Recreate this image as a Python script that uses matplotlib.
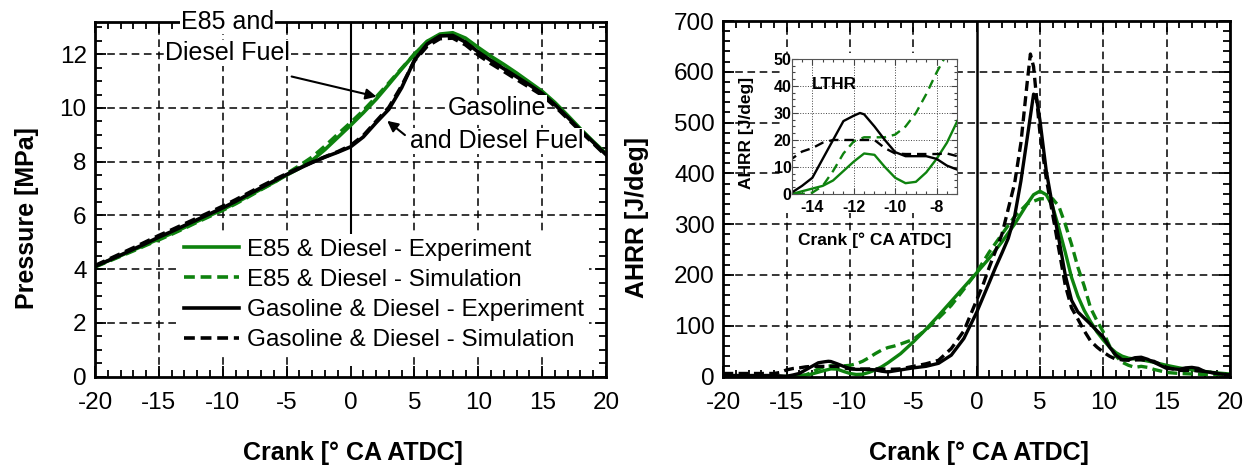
import numpy as np
import matplotlib.pyplot as plt
from matplotlib.ticker import MultipleLocator
from matplotlib.patches import Rectangle

plt.rcParams['font.family'] = ['Liberation Sans', 'DejaVu Sans']
plt.rcParams['axes.unicode_minus'] = False

GREEN = '#0e820e'

# ---- cylinder pressure [MPa] vs crank angle ----
ca_p = np.arange(-20, 21)
p_e85_exp = [4.10, 4.30, 4.50, 4.71, 4.92, 5.12, 5.33, 5.55, 5.78, 6.00,
             6.22, 6.46, 6.72, 6.98, 7.23, 7.50, 7.75, 8.05, 8.45, 8.90,
             9.35, 9.82, 10.32, 10.88, 11.45, 12.00, 12.48, 12.75, 12.80, 12.60,
             12.25, 11.92, 11.62, 11.30, 10.96, 10.62, 10.20, 9.72, 9.22, 8.75, 8.30]
p_e85_sim = [4.08, 4.28, 4.48, 4.68, 4.89, 5.09, 5.30, 5.52, 5.75, 5.97,
             6.19, 6.43, 6.69, 6.96, 7.22, 7.55, 7.85, 8.17, 8.58, 9.02,
             9.45, 9.90, 10.40, 10.93, 11.47, 12.00, 12.47, 12.72, 12.76, 12.55,
             12.20, 11.87, 11.57, 11.25, 10.91, 10.57, 10.15, 9.67, 9.18, 8.71, 8.26]
p_gas_exp = [4.10, 4.31, 4.52, 4.74, 4.96, 5.19, 5.40, 5.62, 5.84, 6.06,
             6.28, 6.52, 6.78, 7.03, 7.28, 7.52, 7.75, 7.97, 8.17, 8.35,
             8.55, 8.92, 9.45, 9.95, 10.75, 11.78, 12.38, 12.68, 12.70, 12.45,
             12.08, 11.76, 11.46, 11.16, 10.86, 10.54, 10.12, 9.65, 9.17, 8.72, 8.26]
p_gas_sim = [4.13, 4.35, 4.57, 4.79, 5.02, 5.25, 5.46, 5.68, 5.90, 6.12,
             6.34, 6.58, 6.83, 7.08, 7.32, 7.55, 7.77, 7.98, 8.18, 8.37,
             8.60, 8.97, 9.50, 10.02, 10.82, 11.75, 12.30, 12.58, 12.60, 12.35,
             11.97, 11.65, 11.36, 11.06, 10.77, 10.47, 10.06, 9.60, 9.13, 8.68, 8.22]

# ---- apparent heat release rate [J/deg] ----
ca_e85_exp = [-20, -18, -16, -15, -14.5, -14, -13.5, -13, -12.5, -12, -11.5, -11,
              -10.5, -10, -9.5, -9, -8.5, -8, -7.5, -7, -6, -5, -4, -3, -2, -1,
              0, 1, 2, 3, 4, 4.5, 5, 5.5, 6, 6.5, 7, 7.5, 8, 8.5, 9, 9.5, 10,
              10.5, 11, 11.5, 12, 13, 14, 15, 16, 17, 18, 19, 20]
hr_e85_exp = [0, 0, 0, 0, 1, 2, 3, 5, 8.5, 12, 15, 14.5,
              10, 6, 4, 4.5, 8, 13, 19, 27, 45, 68, 93, 120, 148, 176,
              204, 233, 265, 300, 340, 358, 365, 358, 335, 292, 245, 195, 158, 130, 108, 88, 72,
              58, 47, 40, 36, 33, 28, 22, 17, 13, 10, 7, 5]

ca_e85_sim = [-20, -18, -16, -15, -14.5, -14, -13.5, -13, -12.5, -12, -11.5, -11,
              -10.5, -10, -9.5, -9, -8.5, -8, -7.5, -7, -6.5, -6, -5, -4, -3, -2,
              -1, 0, 1, 2, 3, 4, 5, 6, 6.5, 7, 7.5, 8, 8.5, 9, 9.5, 10, 10.5,
              11, 11.5, 12, 12.5, 13, 13.5, 14, 15, 16, 17, 18, 20]
hr_e85_sim = [1, 1, 0, 0, 0, 0.5, 3, 8.5, 15, 19.5, 21, 21,
              21, 22, 25, 30, 37, 45, 52, 57, 60, 64, 73, 92, 115, 140,
              172, 205, 245, 280, 315, 340, 350, 350, 335, 300, 260, 215, 178, 135, 110, 88, 60,
              40, 28, 22, 18, 20, 18, 14, 8, 6, 5, 4, 3]

ca_gas_exp = [-20, -18, -16, -15, -14.5, -14, -13.5, -13, -12.5, -12, -11.7, -11.5,
              -11, -10.5, -10, -9.5, -9, -8.5, -8, -7.5, -7, -6, -5, -4, -3, -2,
              -1, 0, 1, 1.5, 2, 2.5, 3, 3.5, 4, 4.5, 4.75, 5, 5.5, 6, 6.5, 7, 7.5,
              8, 8.5, 9, 9.5, 10, 10.5, 11, 11.5, 12, 12.5, 13, 13.5, 14, 14.5,
              15, 16, 16.5, 17, 17.5, 18, 19, 20]
hr_gas_exp = [2, 2, 2, 0.5, 3, 6, 13, 20, 27, 29, 30, 29.5,
              25, 20, 15.5, 14, 14, 14, 13, 10.5, 9, 13, 17, 20, 26, 42,
              75, 126, 185, 215, 243, 272, 315, 385, 470, 556, 545, 505, 405, 335, 270, 200, 150,
              127, 115, 103, 90, 78, 58, 42, 33, 33, 37, 38, 34, 28, 22,
              16, 14, 17, 18, 16, 10, 6, 3]

ca_gas_sim = [-20, -18, -16, -15.5, -15, -14.5, -14, -13.5, -13, -12, -11.5, -11,
              -10.5, -10, -9.5, -9, -8, -7.5, -7, -6, -5, -4, -3, -2, -1, 0,
              0.5, 1, 2, 3, 3.5, 4, 4.25, 4.5, 5, 5.5, 6, 6.5, 7, 7.5, 8, 8.5,
              9, 9.5, 10, 10.5, 11, 12, 13, 14, 15, 16, 17, 18, 19, 20]
hr_gas_sim = [6, 6, 6, 8, 13, 15.7, 17, 19, 20, 20, 20, 20,
              17, 15, 14.8, 14.8, 14.8, 15, 14, 15, 20, 25, 32, 55, 90, 150,
              180, 215, 280, 380, 460, 580, 635, 610, 480, 390, 320, 250, 180, 135, 113, 90,
              70, 58, 48, 40, 34, 32, 33, 30, 18, 12, 12, 10, 6, 3]

labels = ['E85 & Diesel - Experiment', 'E85 & Diesel - Simulation',
          'Gasoline & Diesel - Experiment', 'Gasoline & Diesel - Simulation']
DASH = (0, (3, 1.6))


def style_axes(ax):
    ax.tick_params(which='both', direction='in', top=True, right=True, width=1.3)
    ax.tick_params(which='major', length=8, labelsize=17.5)
    ax.tick_params(axis='x', which='major', pad=11)
    ax.tick_params(axis='y', which='major', pad=6)
    ax.tick_params(which='minor', length=5)
    for s in ax.spines.values():
        s.set_linewidth(2)


def dashed_grid(ax, xs, ys):
    for v in xs:
        ax.axvline(v, color='k', lw=1.1, ls=(0, (5, 3)), zorder=1)
    for v in ys:
        ax.axhline(v, color='k', lw=1.1, ls=(0, (5, 3)), zorder=1)


def place_labels(ax, xpos, ypos):
    ax.xaxis.set_label_coords(*xpos)
    ax.yaxis.set_label_coords(*ypos)
    ax.xaxis.label.set_va('center')
    ax.yaxis.label.set_va('center')


fig = plt.figure(figsize=(12.55, 4.69), dpi=100)

# ---------------- pressure ----------------
ax1 = fig.add_axes([0.0757, 0.1972, 0.4072, 0.7559])
ax1.set_xlim(-20, 20)
ax1.set_ylim(0, 13.2)
ax1.set_xticks(range(-20, 21, 5))
ax1.set_yticks(range(0, 13, 2))
ax1.xaxis.set_minor_locator(MultipleLocator(1))
ax1.yaxis.set_minor_locator(MultipleLocator(0.5))
style_axes(ax1)
dashed_grid(ax1, [-15, -10, -5, 5, 10, 15], [2, 4, 6, 8, 10, 12])
ax1.axvline(0, ymin=5.3 / 13.2, color='k', lw=1.5, zorder=1.5)

ax1.plot(ca_p, p_e85_exp, color=GREEN, lw=2.6, label=labels[0], zorder=2)
ax1.plot(ca_p, p_e85_sim, color=GREEN, lw=2.6, ls=DASH, label=labels[1], zorder=2)
ax1.plot(ca_p, p_gas_exp, color='k', lw=2.6, label=labels[2], zorder=2)
ax1.plot(ca_p, p_gas_sim, color='k', lw=2.6, ls=DASH, label=labels[3], zorder=2)

ax1.legend(loc='center left', bbox_to_anchor=(0.1645, 0.23), frameon=True,
           facecolor='white', edgecolor='none', framealpha=1, fancybox=False,
           fontsize=17.5, handlelength=2.26, handletextpad=0.33,
           labelspacing=0.34, borderpad=0.2, borderaxespad=0)

box = dict(facecolor='white', edgecolor='none', pad=0.5)
ax1.text(-9.63, 13.21, 'E85 and', fontsize=18, ha='center', va='center',
         bbox=box, zorder=6, clip_on=False)
ax1.text(-9.63, 12.04, 'Diesel Fuel', fontsize=18, ha='center', va='center',
         bbox=box, zorder=6)
ax1.text(11.46, 9.99, 'Gasoline', fontsize=18, ha='center', va='center',
         bbox=box, zorder=6)
ax1.text(11.46, 8.77, 'and Diesel Fuel', fontsize=18, ha='center', va='center',
         bbox=box, zorder=6)
arrow = dict(arrowstyle='-|>', color='k', lw=1.5, mutation_scale=16, shrinkA=0, shrinkB=0)
ax1.annotate('', xy=(2.04, 10.42), xytext=(-4.61, 11.17), arrowprops=arrow, zorder=6)
ax1.annotate('', xy=(2.87, 9.52), xytext=(4.26, 8.99), arrowprops=arrow, zorder=6)

ax1.set_xlabel('Crank [° CA ATDC]', fontsize=18, fontweight='bold')
ax1.set_ylabel('Pressure [MPa]', fontsize=18, fontweight='bold')
place_labels(ax1, (0.505, -0.216), (-0.133, 0.447))

# ---------------- heat release ----------------
ax2 = fig.add_axes([0.5763, 0.1972, 0.4037, 0.758])
ax2.set_xlim(-20, 20)
ax2.set_ylim(0, 700)
ax2.set_xticks(range(-20, 21, 5))
ax2.set_yticks(range(0, 701, 100))
ax2.xaxis.set_minor_locator(MultipleLocator(1))
ax2.yaxis.set_minor_locator(MultipleLocator(20))
style_axes(ax2)
dashed_grid(ax2, [-15, -10, -5, 5, 10, 15], [100, 200, 300, 400, 500, 600])
ax2.axvline(0, color='k', lw=1.8, zorder=1.5)

ax2.plot(ca_e85_exp, hr_e85_exp, color=GREEN, lw=2.4, zorder=2)
ax2.plot(ca_e85_sim, hr_e85_sim, color=GREEN, lw=2.4, ls=DASH, zorder=2)
ax2.plot(ca_gas_exp, hr_gas_exp, color='k', lw=2.4, zorder=2)
ax2.plot(ca_gas_sim, hr_gas_sim, color='k', lw=2.4, ls=DASH, zorder=2)

ax2.set_xlabel('Crank [° CA ATDC]', fontsize=18, fontweight='bold')
ax2.set_ylabel('AHRR [J/deg]', fontsize=18, fontweight='bold')
place_labels(ax2, (0.505, -0.216), (-0.170, 0.447))

# white patch behind the LTHR inset
fig.add_artist(Rectangle((0.6247, 0.5458), 0.1386, 0.3412, transform=fig.transFigure,
                         facecolor='white', edgecolor='none', zorder=1))

# ---------------- LTHR inset ----------------
axin = fig.add_axes([0.6308, 0.5864, 0.1320, 0.2878], zorder=3)
axin.set_xlim(-15, -7)
axin.set_ylim(0, 50)
axin.set_xticks([-14, -12, -10, -8])
axin.set_yticks(range(0, 51, 10))
axin.xaxis.set_minor_locator(MultipleLocator(0.5))
axin.yaxis.set_minor_locator(MultipleLocator(2.5))
axin.tick_params(which='both', direction='in', top=True, right=True, width=0.8, color='#444')
axin.tick_params(which='major', length=4, labelsize=11.5)
axin.tick_params(which='minor', length=2)
axin.tick_params(axis='x', pad=4)
axin.tick_params(axis='y', pad=0)
for t in axin.get_xticklabels() + axin.get_yticklabels():
    t.set_fontweight('bold')
for s in axin.spines.values():
    s.set_linewidth(0.8)
    s.set_color('#555')
axin.grid(True, ls=':', color='#444', lw=0.7)

axin.plot(ca_e85_exp, hr_e85_exp, color=GREEN, lw=1.7)
axin.plot(ca_e85_sim, hr_e85_sim, color=GREEN, lw=1.7, ls=(0, (4, 2.5)))
axin.plot(ca_gas_exp, hr_gas_exp, color='k', lw=1.7)
axin.plot(ca_gas_sim, hr_gas_sim, color='k', lw=1.7, ls=(0, (4, 2.5)))

axin.text(0.12, 0.78, 'LTHR', transform=axin.transAxes, fontsize=12.5, fontweight='bold')
axin.set_xlabel('Crank [° CA ATDC]', fontsize=12.5, fontweight='bold',
                bbox=dict(facecolor='white', edgecolor='none', pad=1))
axin.set_ylabel('AHRR [J/deg]', fontsize=12.5, fontweight='bold')
place_labels(axin, (0.50, -0.34), (-0.27, 0.45))

fig.savefig('out.png', dpi=100)
